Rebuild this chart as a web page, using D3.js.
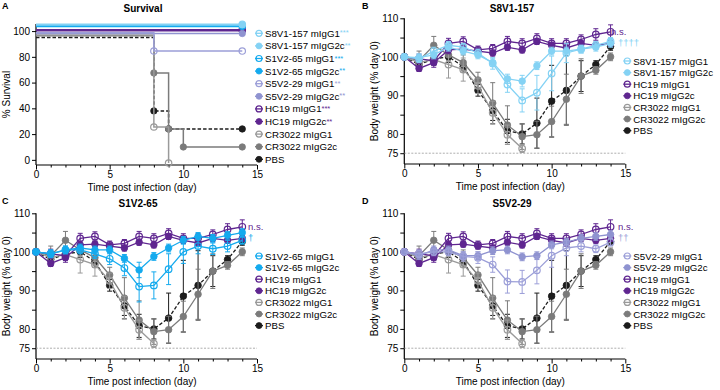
<!DOCTYPE html>
<html>
<head>
<meta charset="utf-8">
<script src="https://cdn.jsdelivr.net/npm/d3@7"></script>
<style>
  body { margin: 0; background: #fff; }
  svg { font-family: "Liberation Sans", Arial, sans-serif; }
</style>
</head>
<body>
<div id="svg-area"></div>
<script>
// ---------- data ----------
// body weight (% of day 0), mean and SD per day
const days = [0, 1, 2, 3, 4, 5, 6, 7, 8, 9, 10, 11, 12, 13, 14];
const daysCr3022G1 = [0, 1, 2, 3, 4, 5, 6, 7, 8];

const hc19G1 = [100, 99.5, 99, 103.5, 104, 101.8, 102.2, 104, 103.5, 104.8, 103.5, 103.5, 104.5, 105.8, 106.5];
const hc19G1Sd = [0, 1.2, 1.2, 1.3, 1.2, 1, 1, 1.3, 1.2, 1.2, 1.2, 1.2, 1.2, 1.5, 1.8];
const hc19G2c = [100, 97, 98.5, 101.8, 102, 101.5, 101, 102.5, 101.8, 104, 103, 102.3, 103.5, 103, 103.5];
const hc19G2cSd = [0, 0.8, 1.2, 1, 0.8, 0.8, 0.8, 0.8, 0.8, 0.8, 0.8, 0.8, 0.8, 0.8, 0.8];
const cr3022G1 = [100, 98.5, 99.3, 98, 96.7, 92.5, 85.5, 79.8, 76.2];
const cr3022G1Sd = [0, 1.5, 1.5, 3.5, 3, 2, 3, 2.5, 1];
const cr3022G2c = [100, 99, 103, 100.5, 98.5, 94, 88, 82.3, 79.3, 79.8, 83.2, 89, 95, 96.5, 100];
const cr3022G2cSd = [0, 2.5, 2.3, 1.5, 2, 2, 5.3, 5, 3.3, 3.5, 4, 6.5, 4.5, 1, 1];
const pbs = [100, 98, 99.5, 100, 97.5, 91.3, 86, 80.8, 80, 82.8, 88.5, 91.3, 95, 98, 102.7];
const pbsSd = [0, 1.5, 1.5, 1.5, 1.5, 1.5, 2.5, 3, 2.6, 6.5, 9.3, 9, 4, 1, 1];

const s8v1G1 = [100, 99.5, 101.5, 103, 102.5, 101, 98.3, 92.8, 88.7, 90.7, 95.7, 101, 102, 103, 104];
const s8v1G1Sd = [0, 1, 1, 1, 1, 1, 1.5, 2, 3, 4.5, 4.5, 2.5, 1, 1, 1];
const s8v1G2c = [100, 99.8, 100.5, 102.5, 101.5, 100.5, 98.5, 94.3, 93.7, 97.7, 101.5, 101.5, 102, 102.5, 103.5];
const s8v1G2cSd = [0, 1, 1, 1, 1, 1, 1, 1.2, 1.5, 1, 1, 1, 1, 1, 1];

const s1v2G1 = [100, 99.5, 100.5, 100.5, 99.5, 98.2, 95.8, 91, 91.3, 95.5, 100, 101.5, 100.8, 101.5, 103];
const s1v2G1Sd = [0, 1, 1, 1, 1.2, 1.5, 2, 4, 3.5, 4, 3, 2, 1.5, 1.5, 1];
const s1v2G2c = [100, 99.5, 100.5, 101, 100.5, 100.5, 98.3, 95.3, 98.8, 101, 103, 104, 103.5, 104.3, 105];
const s1v2G2cSd = [0, 1, 1, 1, 1, 1, 1, 2, 1, 1, 1, 1, 1, 1, 1];

const s5v2G1 = [100, 99.5, 100, 100, 98.8, 98.5, 96.7, 92.3, 92.2, 95.2, 99, 101, 101.5, 100.8, 102.5];
const s5v2G1Sd = [0, 1, 1, 1, 1.2, 1.5, 2, 3, 3, 3.5, 3, 2, 1.5, 1, 1];
const s5v2G2c = [100, 99, 100.5, 100.5, 99, 99, 100.3, 100.5, 98.7, 99, 101.8, 102.5, 103.5, 104, 104.5];
const s5v2G2cSd = [0, 1, 1, 1, 1, 1, 1, 1, 1, 1, 1, 1, 1, 1, 1];

// survival (%), step points; values as drawn (offset so overlapping curves stay visible)
const survDaysFlat = [0, 14];
const survS8v1G1 = [105.3, 105.3];
const survS8v1G2c = [104.8, 104.8];
const survS1v2G1 = [104.2, 104.2];
const survS1v2G2c = [103.6, 103.6];
const survDaysS5v2G1 = [0, 8, 14];
const survS5v2G1 = [98.8, 84.5, 84.5];
const survS5v2G2c = [98.1, 98.1];
const survHc19G1 = [101, 101];
const survHc19G2c = [100.2, 100.2];
const survDaysCr3022G1 = [0, 8, 9];
const survCr3022G1 = [97, 25.5, -2.5];
const survDaysCr3022G2c = [0, 8, 9, 10, 14];
const survCr3022G2c = [96.4, 67.5, 24, 10, 10];
const survDaysPbs = [0, 8, 9, 14];
const survPbs = [95, 38, 24, 24];

const xTicks = [0, 5, 10, 15];
const xMinorTicks = [1, 2, 3, 4, 6, 7, 8, 9, 11, 12, 13, 14];
const survTicks = [0, 20, 40, 60, 80, 100];
const weightTicks = [75, 80, 85, 90, 95, 100, 105, 110];
const weightLabels = [75, 80, 90, 100, 110];

// ---------- colours ----------
const cLightCyan = "#84d2f4";
const cCyan = "#14aaee";
const cLavender = "#9c9fd8";
const cLavender2 = "#8f93d0";
const cPurple = "#5f2690";
const cGrey1 = "#9a9a9a";
const cGrey2 = "#7b7b7b";
const cBlack = "#1c1c1c";

// svg container
const svg = d3.select("#svg-area").append("svg")
    .attr("width", 720)
    .attr("height", 390);

// draw axes for one panel
function drawAxes(x, y, yTickVals, yLabelVals, yTitle, yTitleX, xTitleX) {
    const xr = x.range();
    const yr = y.range();

    // x axis major and minor ticks
    const xMinor = svg.append("g")
        .attr("transform", `translate(0, ${yr[0]})`)
        .call(d3.axisBottom(x).tickValues(xMinorTicks).tickSize(2.5).tickFormat("").tickSizeOuter(0));
    const xMajor = svg.append("g")
        .attr("transform", `translate(0, ${yr[0]})`)
        .call(d3.axisBottom(x).tickValues(xTicks).tickSize(4.5).tickPadding(1.5).tickSizeOuter(0));
    [xMinor, xMajor].forEach(a => {
        a.select("path.domain").remove();
        a.selectAll("line").attr("stroke", "#000");
    });
    xMajor.selectAll("text").attr("font-size", 10).attr("fill", "#000").attr("font-family", "Liberation Sans, Arial");

    // y axis
    const yAxisG = svg.append("g")
        .attr("transform", `translate(${xr[0]}, 0)`)
        .call(d3.axisLeft(y).tickValues(yTickVals).tickSize(4).tickPadding(2)
            .tickFormat(d => yLabelVals.includes(d) ? d : "").tickSizeOuter(0));
    yAxisG.select("path.domain").remove();
    yAxisG.selectAll("line").attr("stroke", "#000");
    yAxisG.selectAll("text").attr("font-size", 10).attr("fill", "#000").attr("font-family", "Liberation Sans, Arial");

    // axis lines
    svg.append("line")
        .attr("x1", xr[0]).attr("x2", xr[1])
        .attr("y1", yr[0]).attr("y2", yr[0])
        .attr("stroke", "#000").attr("stroke-width", 1.2);
    svg.append("line")
        .attr("x1", xr[0]).attr("x2", xr[0])
        .attr("y1", yr[0]).attr("y2", yr[1])
        .attr("stroke", "#000").attr("stroke-width", 1.2);

    // titles
    svg.append("text")
        .attr("x", xTitleX)
        .attr("y", yr[0] + 26)
        .attr("text-anchor", "middle")
        .attr("font-size", 10)
        .text("Time post infection (day)");
    svg.append("text")
        .attr("transform", `translate(${yTitleX}, ${(yr[0] + yr[1]) / 2}) rotate(-90)`)
        .attr("text-anchor", "middle")
        .attr("font-size", 10)
        .text(yTitle);
}

function panelTitle(letter, lx, ly, title, tx) {
    svg.append("text").attr("x", lx).attr("y", ly)
        .attr("font-size", 9).attr("font-weight", "bold").text(letter);
    svg.append("text").attr("x", tx).attr("y", ly + 3.5)
        .attr("text-anchor", "middle")
        .attr("font-size", 10).attr("font-weight", "bold").text(title);
}

function marker(g, cx, cy, color, open, r) {
    g.append("circle")
        .attr("cx", cx).attr("cy", cy).attr("r", r || 3.3)
        .attr("fill", open ? "none" : color)
        .attr("stroke", color)
        .attr("stroke-width", open ? 1.2 : 0.8);
}

// ---------- A: survival ----------
const xA = d3.scaleLinear().domain([0, 15]).range([36, 257]);
const yA = d3.scaleLinear().domain([-4, 105.5]).range([165, 24]);
panelTitle("A", 2, 8.5, "Survival", 143);
drawAxes(xA, yA, survTicks, survTicks, "% Survival", 10, 142);

const survSeries = [
    { name: "PBS", d: survDaysPbs, v: survPbs, color: cBlack, open: false, dash: "3.5,2" },
    { name: "CR3022 mIgG2c", d: survDaysCr3022G2c, v: survCr3022G2c, color: cGrey2, open: false },
    { name: "CR3022 mIgG1", d: survDaysCr3022G1, v: survCr3022G1, color: cGrey1, open: true },
    { name: "HC19 mIgG2c", d: survDaysFlat, v: survHc19G2c, color: cPurple, open: false },
    { name: "HC19 mIgG1", d: survDaysFlat, v: survHc19G1, color: cPurple, open: true },
    { name: "S5V2-29 mIgG2c", d: survDaysFlat, v: survS5v2G2c, color: cLavender2, open: false },
    { name: "S5V2-29 mIgG1", d: survDaysS5v2G1, v: survS5v2G1, color: cLavender, open: true },
    { name: "S1V2-65 mIgG2c", d: survDaysFlat, v: survS1v2G2c, color: cCyan, open: false },
    { name: "S1V2-65 mIgG1", d: survDaysFlat, v: survS1v2G1, color: cCyan, open: true },
    { name: "S8V1-157 mIgG2c", d: survDaysFlat, v: survS8v1G2c, color: cLightCyan, open: false },
    { name: "S8V1-157 mIgG1", d: survDaysFlat, v: survS8v1G1, color: cLightCyan, open: true }
];

const stepLine = d3.line()
    .x(p => xA(p[0]))
    .y(p => yA(p[1]))
    .curve(d3.curveStepAfter);

const survG = svg.append("g");
survSeries.forEach(s => {
    const pts = s.d.map((d, i) => [d, s.v[i]]);
    survG.append("path")
        .attr("d", stepLine(pts))
        .attr("fill", "none")
        .attr("stroke", s.color)
        .attr("stroke-width", 1.5)
        .attr("stroke-dasharray", s.dash || null);
    pts.slice(1).forEach(p => marker(survG, xA(p[0]), yA(p[1]), s.color, s.open, 3.2));
});

// legend A
const legendA = [
    { name: "S8V1-157 mIgG1", color: cLightCyan, open: true, stars: "***" },
    { name: "S8V1-157 mIgG2c", color: cLightCyan, open: false, stars: "**" },
    { name: "S1V2-65 mIgG1", color: cCyan, open: true, stars: "***" },
    { name: "S1V2-65 mIgG2c", color: cCyan, open: false, stars: "**" },
    { name: "S5V2-29 mIgG1", color: cLavender, open: true, stars: "**" },
    { name: "S5V2-29 mIgG2c", color: cLavender2, open: false, stars: "**" },
    { name: "HC19 mIgG1", color: cPurple, open: true, stars: "***" },
    { name: "HC19 mIgG2c", color: cPurple, open: false, stars: "**" },
    { name: "CR3022 mIgG1", color: cGrey1, open: true, stars: "" },
    { name: "CR3022 mIgG2c", color: cGrey2, open: false, stars: "" },
    { name: "PBS", color: cBlack, open: false, stars: "" }
];

function drawLegend(items, mx, tx, y0, dy) {
    const g = svg.append("g");
    items.forEach((it, i) => {
        const cy = y0 + i * dy;
        g.append("line")
            .attr("x1", mx - 4).attr("x2", mx + 4)
            .attr("y1", cy).attr("y2", cy)
            .attr("stroke", it.color).attr("stroke-width", 1.3);
        marker(g, mx, cy, it.color, it.open, 3);
        const t = g.append("text")
            .attr("x", tx).attr("y", cy + 3.5)
            .attr("font-size", 9.7)
            .text(it.name);
        if (it.stars) {
            t.append("tspan")
                .attr("fill", it.color)
                .attr("font-size", 7.5)
                .attr("dy", -1.5)
                .text(it.stars);
        }
    });
}
drawLegend(legendA, 259, 265, 33.3, 12.6);

// ---------- B, C, D: body weight ----------
function weightPanel(opt) {
    const x = d3.scaleLinear().domain([0, 15]).range([opt.x0, opt.x0 + 221]);
    const y = d3.scaleLinear().domain([72.2, 110]).range([opt.y0 + 145.7, opt.y0]);
    panelTitle(opt.letter, opt.lx, opt.ly, opt.title, opt.tx);
    drawAxes(x, y, weightTicks, weightLabels, "Body weight (% day 0)", opt.x0 - 26, opt.x0 + 106);

    // 75% reference line
    svg.append("line")
        .attr("x1", x(0)).attr("x2", x(15))
        .attr("y1", y(75)).attr("y2", y(75))
        .attr("stroke", "#9a9a9a")
        .attr("stroke-width", 0.8)
        .attr("stroke-dasharray", "2,1.5");

    // drawing order: controls first, antibody of the panel on top
    const series = [
        { name: "PBS", d: days, v: pbs, sd: pbsSd, color: cBlack, open: false, dash: "3.5,2" },
        { name: "CR3022 mIgG2c", d: days, v: cr3022G2c, sd: cr3022G2cSd, color: cGrey2, open: false },
        { name: "CR3022 mIgG1", d: daysCr3022G1, v: cr3022G1, sd: cr3022G1Sd, color: cGrey1, open: true },
        { name: "HC19 mIgG2c", d: days, v: hc19G2c, sd: hc19G2cSd, color: cPurple, open: false },
        { name: "HC19 mIgG1", d: days, v: hc19G1, sd: hc19G1Sd, color: cPurple, open: true },
        { name: opt.ab + " mIgG2c", d: days, v: opt.g2c, sd: opt.g2cSd, color: opt.color2, open: false },
        { name: opt.ab + " mIgG1", d: days, v: opt.g1, sd: opt.g1Sd, color: opt.color, open: true }
    ];

    const g = svg.append("g");
    series.forEach(s => {
        const pts = s.d.map((d, i) => [d, s.v[i], s.sd[i]]);
        // error bars
        pts.forEach(p => {
            if (!p[2]) return;
            const cx = x(p[0]);
            g.append("line")
                .attr("x1", cx).attr("x2", cx)
                .attr("y1", y(p[1] - p[2])).attr("y2", y(p[1] + p[2]))
                .attr("stroke", s.color).attr("stroke-width", 1);
            [p[1] - p[2], p[1] + p[2]].forEach(e => {
                g.append("line")
                    .attr("x1", cx - 2.5).attr("x2", cx + 2.5)
                    .attr("y1", y(e)).attr("y2", y(e))
                    .attr("stroke", s.color).attr("stroke-width", 1);
            });
        });
        g.append("path")
            .attr("d", d3.line().x(p => x(p[0])).y(p => y(p[1]))(pts))
            .attr("fill", "none")
            .attr("stroke", s.color)
            .attr("stroke-width", 1.3)
            .attr("stroke-dasharray", s.dash || null);
        pts.forEach(p => marker(g, x(p[0]), y(p[1]), s.color, s.open, 3.3));
    });

    // significance notes
    svg.append("text")
        .attr("x", opt.nsX).attr("y", opt.y0 + 16.5)
        .attr("font-size", 9.5)
        .attr("fill", cPurple)
        .text("n.s.");
    svg.append("text")
        .attr("x", opt.daggerX).attr("y", opt.y0 + 27.5)
        .attr("font-size", 9.5)
        .attr("fill", opt.color)
        .text(opt.daggers);

    // legend: reverse of drawing order
    const legend = series.slice().reverse().map(s => ({ name: s.name, color: s.color, open: s.open }));
    drawLegend(legend, opt.x0 + 223, opt.x0 + 229, opt.y0 + 42.7, 11.6);
}

weightPanel({
    letter: "B", lx: 362, ly: 8.5, title: "S8V1-157", tx: 512,
    x0: 404.3, y0: 18.3, ab: "S8V1-157",
    g1: s8v1G1, g1Sd: s8v1G1Sd, g2c: s8v1G2c, g2cSd: s8v1G2cSd,
    color: cLightCyan, color2: cLightCyan,
    nsX: 611, daggerX: 618, daggers: "††††"
});

weightPanel({
    letter: "C", lx: 2, ly: 203.5, title: "S1V2-65", tx: 138,
    x0: 36, y0: 213.3, ab: "S1V2-65",
    g1: s1v2G1, g1Sd: s1v2G1Sd, g2c: s1v2G2c, g2cSd: s1v2G2cSd,
    color: cCyan, color2: cCyan,
    nsX: 248, daggerX: 248, daggers: "†"
});

weightPanel({
    letter: "D", lx: 362, ly: 203.5, title: "S5V2-29", tx: 512,
    x0: 404.3, y0: 213.3, ab: "S5V2-29",
    g1: s5v2G1, g1Sd: s5v2G1Sd, g2c: s5v2G2c, g2cSd: s5v2G2cSd,
    color: cLavender, color2: cLavender2,
    nsX: 618, daggerX: 618, daggers: "††"
});
</script>
</body>
</html>
